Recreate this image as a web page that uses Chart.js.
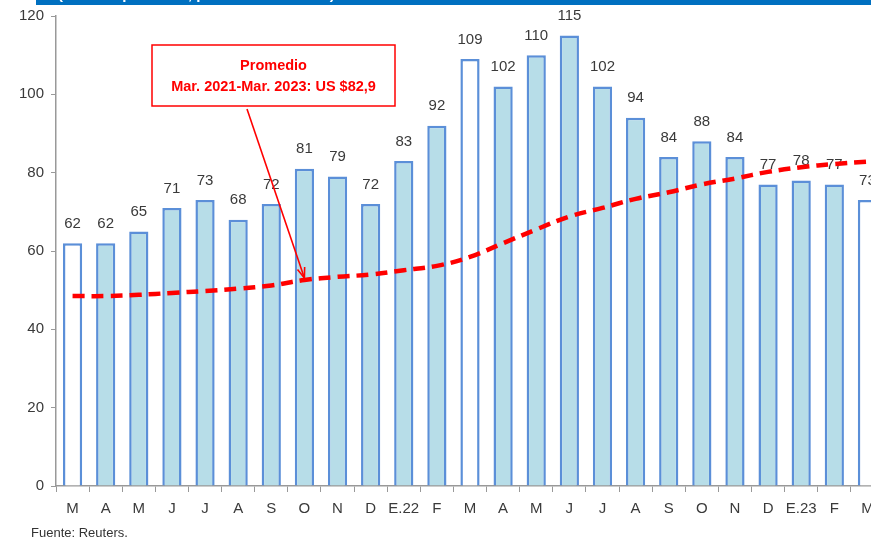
<!DOCTYPE html>
<html>
<head>
<meta charset="utf-8">
<script src="https://cdn.jsdelivr.net/npm/chart.js@4.4.0/dist/chart.umd.min.js"></script>
<style>
    html, body { margin: 0; padding: 0; background: #fff; overflow: hidden; }
    #grafica { position: absolute; left: 0; top: 0; }
</style>
</head>
<body>
<canvas id="grafica" width="900" height="542"></canvas>
<script>
const meses = ['M', 'A', 'M', 'J', 'J', 'A', 'S', 'O', 'N', 'D', 'E.22', 'F',
    'M', 'A', 'M', 'J', 'J', 'A', 'S', 'O', 'N', 'D', 'E.23', 'F', 'M'];
const precios = [62, 62, 65, 71, 73, 68, 72, 81, 79, 72, 83, 92,
    109, 102, 110, 115, 102, 94, 84, 88, 84, 77, 78, 77, 73];
const promedioMovil = [48.5, 48.5, 48.8, 49.3, 49.8, 50.4, 51.2, 52.6, 53.4, 54, 55.1, 56.2,
    58.5, 62, 65.5, 68.8, 71, 73.3, 75, 77, 78.5, 80.2, 81.4, 82.2, 82.8];
const marzos = [0, 12, 24];   // barras en blanco
const ticksY = [0, 20, 40, 60, 80, 100, 120];

const fuente = "'Liberation Sans', Arial, sans-serif";
const rojo = '#FF0000';

const rellenos = meses.map((m, i) => marzos.includes(i) ? '#FFFFFF' : '#B7DDE8');

// etiquetas sobre las barras (antes de dibujar la linea)
const etiquetas = {
    id: 'etiquetas',
    afterDatasetDraw(chart, args) {
        if (args.index !== 0) return;
        const ctx = chart.ctx;
        ctx.save();
        ctx.font = '15px ' + fuente;
        ctx.fillStyle = '#3a3a3a';
        ctx.textAlign = 'center';
        ctx.textBaseline = 'bottom';
        args.meta.data.forEach((bar, i) => {
            ctx.fillText(String(precios[i]), bar.x, bar.y - 12);
        });
        ctx.restore();
    }
};

const adornos = {
    id: 'adornos',
    afterDraw(chart) {
        const ctx = chart.ctx;
        const x = chart.scales.x, y = chart.scales.y;
        ctx.save();

        // franja azul superior (titulo cortado)
        ctx.fillStyle = '#0070C0';
        ctx.fillRect(36, 0, chart.width, 5);
        ctx.beginPath();
        ctx.rect(36, 0, chart.width, 5);
        ctx.clip();
        ctx.fillStyle = '#FFFFFF';
        ctx.font = 'bold 15px ' + fuente;
        ctx.textAlign = 'left';
        ctx.textBaseline = 'alphabetic';
        ctx.fillText('(Dólares por barril, promedio mensual)', 58, -1);
        ctx.restore();

        ctx.save();
        // cuadro del promedio
        const bx = 152, by = 45, bw = 243, bh = 61;
        ctx.fillStyle = '#FFFFFF';
        ctx.fillRect(bx, by, bw, bh);
        ctx.strokeStyle = rojo;
        ctx.lineWidth = 1.5;
        ctx.strokeRect(bx, by, bw, bh);
        ctx.fillStyle = rojo;
        ctx.font = 'bold 14.5px ' + fuente;
        ctx.textAlign = 'center';
        ctx.textBaseline = 'middle';
        ctx.fillText('Promedio', bx + bw / 2, 66);
        ctx.fillText('Mar. 2021-Mar. 2023: US $82,9', bx + bw / 2, 87);

        // flecha hacia la linea en octubre
        const x0 = 247, y0 = by + bh + 3;
        const x1 = x.getPixelForValue(7), y1 = y.getPixelForValue(promedioMovil[7]) - 2;
        ctx.strokeStyle = rojo;
        ctx.lineWidth = 1.6;
        ctx.beginPath();
        ctx.moveTo(x0, y0);
        ctx.lineTo(x1, y1);
        ctx.stroke();
        const ang = Math.atan2(y1 - y0, x1 - x0);
        ctx.beginPath();
        ctx.moveTo(x1, y1);
        ctx.lineTo(x1 - 11 * Math.cos(ang - 0.35), y1 - 11 * Math.sin(ang - 0.35));
        ctx.moveTo(x1, y1);
        ctx.lineTo(x1 - 11 * Math.cos(ang + 0.35), y1 - 11 * Math.sin(ang + 0.35));
        ctx.stroke();

        // fuente
        ctx.fillStyle = '#333333';
        ctx.font = '13px ' + fuente;
        ctx.textAlign = 'left';
        ctx.fillText('Fuente: Reuters.', 31, 533);
        ctx.restore();
    }
};

const grafica = new Chart(document.getElementById('grafica'), {
    data: {
        labels: meses,
        datasets: [{
            type: 'bar',
            data: precios,
            backgroundColor: rellenos,
            borderColor: '#5B8FD8',
            borderWidth: 2.5,
            borderSkipped: 'bottom',
            barPercentage: 0.58,
            categoryPercentage: 1,
            order: 2
        }, {
            type: 'line',
            data: promedioMovil,
            borderColor: rojo,
            borderWidth: 4.5,
            borderDash: [12, 7],
            borderCapStyle: 'butt',
            tension: 0.4,
            pointRadius: 0,
            fill: false,
            order: 1
        }]
    },
    options: {
        responsive: false,
        animation: false,
        layout: { padding: { top: 13, right: 16, left: 0, bottom: 0 } },
        plugins: { legend: { display: false }, tooltip: { enabled: false } },
        scales: {
            x: {
                grid: { display: true, offset: true, drawOnChartArea: false, drawTicks: true, tickLength: 6, color: '#999999' },
                border: { display: true, color: '#999999', width: 1.5 },
                ticks: { color: '#3a3a3a', font: { family: fuente, size: 15 }, padding: 8, maxRotation: 0, autoSkip: false },
                afterFit(s) { s.height = 56; }
            },
            y: {
                min: 0,
                max: 120,
                afterBuildTicks(s) { s.ticks = ticksY.map(v => ({ value: v })); },
                grid: { display: true, drawOnChartArea: false, drawTicks: true, tickLength: 5, color: '#999999' },
                border: { display: true, color: '#999999', width: 1.5 },
                ticks: { color: '#3a3a3a', font: { family: fuente, size: 15 }, padding: 7 },
                afterFit(s) { s.width = 56; }
            }
        }
    },
    plugins: [etiquetas, adornos]
});
</script>
</body>
</html>
